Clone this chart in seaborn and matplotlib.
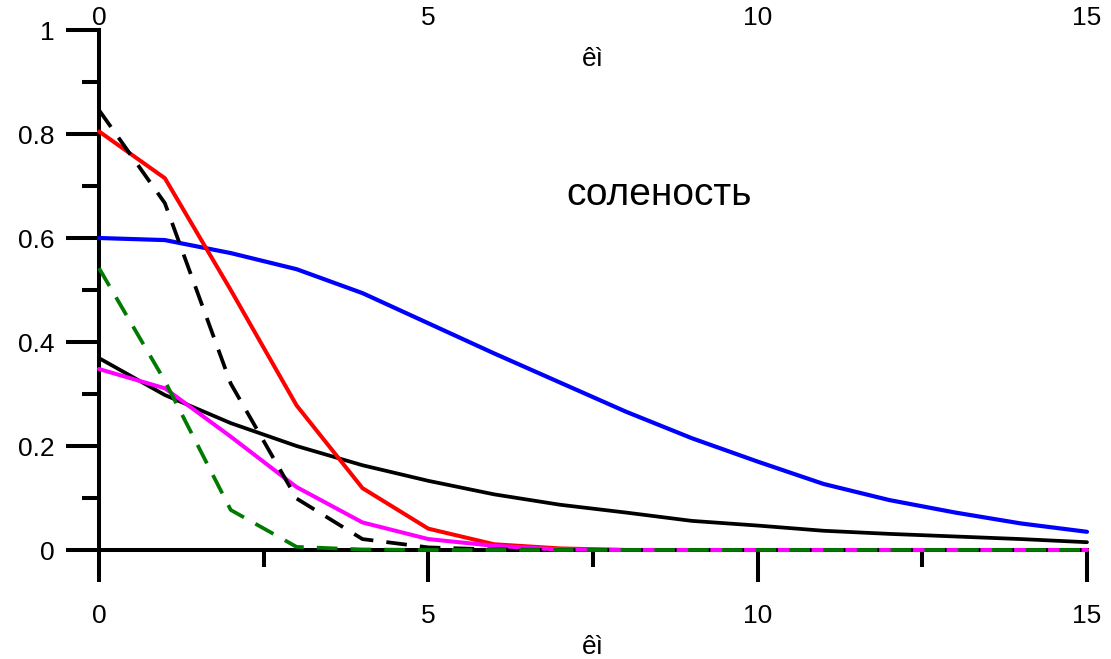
import numpy as np
import pandas as pd
import matplotlib
matplotlib.use("Agg")
import matplotlib.pyplot as plt
import seaborn as sns
from matplotlib.ticker import MultipleLocator

# distance along the section, km
dist = np.arange(0, 16)

blue_vals = [0.600, 0.596, 0.571, 0.540, 0.494, 0.436, 0.378, 0.322, 0.266, 0.215,
             0.170, 0.127, 0.096, 0.072, 0.051, 0.035]
black_vals = [0.369, 0.298, 0.244, 0.200, 0.163, 0.133, 0.107, 0.087, 0.072, 0.056,
              0.047, 0.037, 0.031, 0.026, 0.021, 0.015]
red_vals = [0.805, 0.715, 0.500, 0.278, 0.119, 0.041, 0.011, 0.003, 0.0, 0.0,
            0.0, 0.0, 0.0, 0.0, 0.0, 0.0]
magenta_vals = [0.348, 0.311, 0.218, 0.121, 0.053, 0.021, 0.008, 0.001, 0.0, 0.0,
                0.0, 0.0, 0.0, 0.0, 0.0, 0.0]
black_dash_vals = [0.846, 0.667, 0.320, 0.099, 0.021, 0.005, 0.001, 0.0, 0.0, 0.0,
                   0.0, 0.0, 0.0, 0.0, 0.0, 0.0]
green_dash_vals = [0.542, 0.325, 0.077, 0.006, 0.001, 0.0, 0.0, 0.0, 0.0, 0.0,
                   0.0, 0.0, 0.0, 0.0, 0.0, 0.0]

x_ticks = [0, 5, 10, 15]
y_ticks = [0, 0.2, 0.4, 0.6, 0.8, 1]
y_tick_labels = ["0", "0.2", "0.4", "0.6", "0.8", "1"]
axis_label = "êì"
caption = "соленость"

sns.set_theme(style="white")
fam = ["Liberation Sans Narrow", "Liberation Sans", "DejaVu Sans"]
plt.rcParams["font.family"] = fam

fig = plt.figure(figsize=(11.11, 6.59), dpi=100)
ax = fig.add_axes([99 / 1111, 109 / 659, 988 / 1111, 520 / 659])

series = [
    (black_vals, "black", "-", 2.7),
    (blue_vals, "#0000ff", "-", 3.0),
    (red_vals, "#ff0000", "-", 2.9),
    (magenta_vals, "#ff00ff", "-", 2.9),
    (black_dash_vals, "black", "--", 2.7),
    (green_dash_vals, "#007a00", "--", 2.7),
]
for vals, col, ls, lw in series:
    df = pd.DataFrame({"x": dist, "y": vals})
    sns.lineplot(data=df, x="x", y="y", ax=ax, color=col, linewidth=lw,
                 linestyle=ls, zorder=3, clip_on=False, estimator=None)
for line in ax.get_lines():
    if line.get_linestyle() == "--":
        line.set_dashes((5.5, 3.5))

ax.set_xlim(0, 15)
ax.set_ylim(0, 1)

for side in ["top", "right"]:
    ax.spines[side].set_visible(False)
for side in ["left", "bottom"]:
    ax.spines[side].set_linewidth(2.9)
    ax.spines[side].set_color("black")
    ax.spines[side].set_zorder(2)

ax.set_xticks(x_ticks)
ax.set_xticklabels([str(t) for t in x_ticks])
ax.xaxis.set_minor_locator(MultipleLocator(2.5))
ax.set_yticks(y_ticks)
ax.set_yticklabels(y_tick_labels)
ax.yaxis.set_minor_locator(MultipleLocator(0.1))

ax.tick_params(axis="x", which="major", direction="out", length=23, width=2.9,
               color="black", labelsize=19, pad=16, bottom=True)
ax.tick_params(axis="x", which="minor", direction="out", length=12, width=2.9,
               color="black", bottom=True)
ax.tick_params(axis="y", which="major", direction="out", length=24, width=2.9,
               color="black", labelsize=19, pad=8, left=True)
ax.tick_params(axis="y", which="minor", direction="out", length=12, width=2.9,
               color="black", left=True)
for lab in ax.get_xticklabels() + ax.get_yticklabels():
    lab.set_family(fam)
    lab.set_color("black")

ax.set_ylabel("")
ax.set_xlabel(axis_label, fontsize=19, color="black", family=fam)
ax.xaxis.set_label_coords(0.5, -0.163)

# secondary distance scale along the top edge
top = ax.secondary_xaxis("top")
top.set_xticks(x_ticks)
top.set_xticklabels([str(t) for t in x_ticks])
top.tick_params(axis="x", length=0, labelsize=19, pad=0)
top.spines["top"].set_visible(False)
for lab in top.get_xticklabels():
    lab.set_family(fam)
    lab.set_color("black")

ax.text(0.5, 0.944, axis_label, transform=ax.transAxes, ha="center", va="center",
        fontsize=19, family=fam, color="black")
ax.text(8.5, 0.664, caption, ha="center", va="baseline", fontsize=28,
        family=fam, color="black")

ax.set_facecolor("white")
fig.patch.set_facecolor("white")
fig.savefig("out.png", dpi=100)
